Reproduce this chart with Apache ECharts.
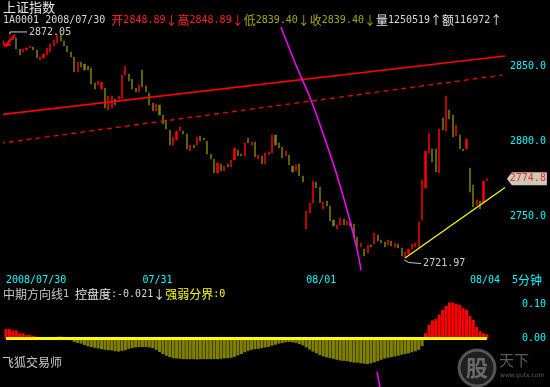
<!DOCTYPE html>
<html><head><meta charset="utf-8">
<script src="https://cdn.jsdelivr.net/npm/echarts@6/dist/echarts.min.js"></script>
<style>html,body{margin:0;padding:0;background:#000}#c{width:550px;height:387px}</style>
</head><body><div id="c"></div>
<script>
// ---- data ----
const slotCount = 147;
const dayStarts = [0, 40, 88, 136];
const dayLabels = ['2008/07/30', '07/31', '08/01', '08/04'];
const opens = [2863.3,2865.3,2867.3,2868.7,2861.3,2859.3,2860.7,2862.0,2862.7,2860.7,
2854.0,2855.3,2857.3,2859.3,2863.3,2865.3,2871.3,2866.7,2863.3,2859.3,
2856.0,2846.0,2852.7,2851.3,2850.0,2848.7,2838.7,2837.3,2834.7,2835.3,
2820.7,2822.0,2828.0,2828.0,2828.0,2844.0,2844.7,2841.3,2835.3,2832.7,
2847.3,2836.7,2832.0,2825.3,2820.0,2824.0,2817.3,2814.0,2807.3,2797.3,
2800.7,2806.7,2806.7,2804.7,2793.3,2797.3,2797.3,2803.3,2802.0,2800.0,
2791.3,2788.0,2778.7,2784.7,2780.0,2784.7,2782.7,2787.3,2794.0,2791.3,
2790.0,2802.0,2797.3,2799.3,2788.0,2790.0,2784.7,2790.7,2792.0,2804.0,
2798.7,2796.0,2790.0,2790.7,2783.3,2780.0,2784.7,2776.7,2741.3,2752.0,
2758.7,2772.7,2769.3,2754.7,2760.0,2756.7,2747.3,2741.3,2744.0,2748.0,
2744.0,2745.3,2744.7,2736.0,2729.3,2728.0,2725.3,2730.7,2731.3,2737.3,
2734.0,2732.7,2730.7,2733.3,2729.3,2731.3,2728.7,2722.7,2724.7,2728.0,
2729.3,2728.7,2747.3,2768.7,2792.0,2794.7,2794.7,2778.7,2815.3,2806.7,
2820.7,2817.3,2803.3,2804.0,2794.7,2794.7,2782.0,2770.7,2757.3,2760.0,
2758.7,2773.5];
const closes = [2864.7,2867.3,2870.0,2861.3,2857.3,2861.3,2862.0,2863.3,2860.7,2855.3,
2856.0,2858.0,2862.0,2864.7,2867.3,2870.7,2866.7,2863.3,2859.3,2856.0,
2846.0,2852.7,2849.3,2847.3,2847.3,2838.0,2834.7,2840.0,2839.3,2822.0,
2830.0,2830.0,2824.0,2830.0,2844.0,2850.0,2840.0,2834.7,2832.7,2837.3,
2836.0,2832.7,2824.0,2820.0,2824.7,2817.3,2811.3,2808.0,2797.3,2802.7,
2806.7,2809.3,2804.7,2794.7,2797.3,2795.3,2802.7,2800.0,2800.7,2791.3,
2788.0,2778.7,2785.3,2780.0,2783.3,2782.7,2787.3,2795.3,2790.0,2790.0,
2798.7,2798.7,2799.3,2789.3,2790.7,2784.7,2792.0,2792.7,2804.0,2797.3,
2795.3,2788.7,2793.3,2784.0,2779.3,2784.0,2776.7,2772.7,2753.3,2758.7,
2773.3,2768.7,2758.7,2759.3,2756.7,2746.7,2743.3,2744.0,2748.7,2744.0,
2746.7,2743.3,2736.0,2729.3,2732.0,2723.3,2730.7,2729.3,2738.7,2733.3,
2732.0,2729.3,2734.0,2730.0,2732.0,2728.7,2723.3,2726.0,2728.0,2731.3,
2732.0,2746.0,2774.0,2793.3,2805.3,2786.0,2779.3,2808.0,2807.3,2830.0,
2814.7,2802.7,2810.7,2794.7,2793.3,2801.3,2766.0,2756.0,2760.7,2754.7,
2773.3,2774.8];
const lows = [2863.3,2865.3,2867.3,2861.3,2857.3,2859.3,2860.7,2862.0,2860.7,2855.3,
2854.0,2855.3,2857.3,2859.3,2863.3,2865.3,2866.7,2863.3,2859.3,2856.0,
2846.0,2846.0,2849.3,2847.3,2847.3,2838.0,2834.7,2837.3,2834.7,2822.0,
2820.7,2822.0,2824.0,2828.0,2828.0,2844.0,2840.0,2834.7,2832.7,2832.7,
2836.0,2832.7,2824.0,2820.0,2820.0,2817.3,2811.3,2808.0,2797.3,2797.3,
2800.7,2806.7,2804.7,2794.7,2793.3,2795.3,2797.3,2800.0,2800.7,2791.3,
2788.0,2778.7,2778.7,2780.0,2780.0,2782.7,2782.7,2787.3,2790.0,2790.0,
2790.0,2798.7,2797.3,2789.3,2788.0,2784.7,2784.7,2790.7,2792.0,2797.3,
2795.3,2788.7,2790.0,2784.0,2779.3,2780.0,2776.7,2772.7,2741.3,2752.0,
2758.7,2768.7,2758.7,2754.7,2756.7,2746.7,2743.3,2741.3,2744.0,2744.0,
2744.0,2743.3,2736.0,2729.3,2729.3,2723.3,2725.3,2729.3,2731.3,2733.3,
2732.0,2729.3,2730.7,2730.0,2729.3,2728.7,2723.3,2721.97,2724.7,2728.0,
2729.3,2728.7,2747.3,2768.7,2792.0,2786.0,2779.3,2778.7,2807.3,2806.7,
2814.7,2802.7,2803.3,2794.7,2793.3,2794.7,2766.0,2756.0,2757.3,2754.7,
2758.7,2773.5];
const highs = [2864.7,2872.05,2870.0,2869.5,2861.3,2861.3,2862.0,2863.3,2862.7,2860.7,
2856.0,2858.0,2862.0,2864.7,2867.3,2870.7,2871.3,2866.7,2863.3,2859.3,
2856.0,2852.7,2852.7,2851.3,2850.0,2848.7,2838.7,2840.0,2839.3,2835.3,
2830.0,2830.0,2828.0,2830.0,2844.0,2850.0,2844.7,2841.3,2835.3,2837.3,
2847.3,2836.7,2832.0,2825.3,2824.7,2824.0,2817.3,2814.0,2807.3,2802.7,
2806.7,2809.3,2806.7,2804.7,2797.3,2797.3,2802.7,2803.3,2802.0,2800.0,
2791.3,2788.0,2785.3,2784.7,2783.3,2784.7,2787.3,2795.3,2794.0,2791.3,
2798.7,2802.0,2799.3,2799.3,2790.7,2790.0,2792.0,2792.7,2804.0,2804.0,
2798.7,2796.0,2793.3,2790.7,2783.3,2784.0,2784.7,2776.7,2753.3,2758.7,
2773.3,2772.7,2769.3,2759.3,2760.0,2756.7,2747.3,2744.0,2748.7,2748.0,
2746.7,2745.3,2744.7,2736.0,2732.0,2728.0,2730.7,2730.7,2738.7,2737.3,
2734.0,2732.7,2734.0,2733.3,2732.0,2731.3,2728.7,2726.0,2728.0,2731.3,
2732.0,2746.0,2774.0,2793.3,2805.3,2794.7,2794.7,2808.0,2815.3,2830.0,
2820.7,2817.3,2810.7,2804.0,2794.7,2801.3,2782.0,2770.7,2760.7,2760.0,
2773.3,2774.8];
const control = [0.027,0.027,0.023,0.023,0.015,0.015,0.010,0.010,0.008,0.005,
0.004,-0.002,-0.003,-0.004,-0.002,0.005,0.006,0.002,-0.002,-0.005,
-0.010,-0.013,-0.015,-0.019,-0.023,-0.025,-0.027,-0.029,-0.031,-0.033,
-0.034,-0.035,-0.037,-0.038,-0.036,-0.034,-0.030,-0.028,-0.026,-0.025,
-0.025,-0.025,-0.026,-0.028,-0.033,-0.039,-0.045,-0.050,-0.054,-0.057,
-0.058,-0.059,-0.060,-0.060,-0.060,-0.060,-0.061,-0.060,-0.060,-0.060,
-0.060,-0.060,-0.060,-0.059,-0.058,-0.057,-0.056,-0.053,-0.049,-0.045,
-0.040,-0.036,-0.033,-0.031,-0.030,-0.028,-0.026,-0.024,-0.021,-0.018,
-0.015,-0.013,-0.011,-0.010,-0.011,-0.013,-0.016,-0.020,-0.026,-0.032,
-0.038,-0.043,-0.048,-0.052,-0.055,-0.057,-0.059,-0.062,-0.064,-0.065,
-0.066,-0.068,-0.070,-0.070,-0.072,-0.073,-0.074,-0.072,-0.069,-0.066,
-0.062,-0.058,-0.056,-0.054,-0.052,-0.050,-0.047,-0.045,-0.043,-0.040,
-0.037,-0.033,-0.022,0.015,0.039,0.052,0.056,0.068,0.083,0.094,
0.104,0.104,0.100,0.097,0.088,0.083,0.066,0.054,0.033,0.021,
0.015,0.012];
const priceTicks = [2750, 2800, 2850];
const indTicks = [0, 0.1];
// drawn lines: [bar position, price]
const trendSolid = [[-1.76, 2817.5], [146.3, 2856.7]];
const trendDashed = [[-1.76, 2798.5], [145.7, 2844.0]];
const supportLine = [[117, 2722.0], [146.3, 2769.0]];
const arcLine = [[80.6, 2876.0], [85.0, 2850.7], [89.4, 2827.3], [94.1, 2797.3], [97.0, 2777.3], [100.0, 2754.0], [102.6, 2730.7], [104.1, 2714.0]];
const arcLower = [[108.8, -0.097], [109.6, -0.141]];
const arrowShaft = [[-1.17, 2867.6], [-0.3, 2863.3], [2.64, 2870.9]];
const arrowHead = [[-0.3, 2863.3], [1.4, 2864.4]];
const hiLead = [[1.17, 2871.3], [1.17, 2872.7], [6.16, 2872.7]];
const loLead = [[116.7, 2720.7], [118.1, 2719.0], [121.7, 2718.3]];
const lastPrice = 2774.8;
const quoteVals = ['2848.89', '2848.89', '2839.40', '2839.40', '1250519', '116972'];

const mono = "'DejaVu Sans Mono', 'Liberation Mono', monospace";
const cjk = "'Noto Sans CJK SC', sans-serif";
const cyan = '#00ffff', red = '#ff0000', olive = '#808000';
const categories = Array.from({length: slotCount}, (_, i) => String(i));
const candles = opens.map((o, i) => [o, closes[i], lows[i], highs[i]]);
const zeroLine = control.map(() => 0);

const chart = echarts.init(document.getElementById('c'), null, {renderer: 'canvas'});
const G = {left: 4.3, width: 501.4};
const lineS = (data, color, w, extra) => Object.assign({
  type: 'line', xAxisIndex: 1, yAxisIndex: 0, data, symbol: 'none', silent: true, clip: false,
  lineStyle: {color, width: w}, animation: false, z: 5
}, extra || {});

const mk = (ff, fs, c) => ({fontFamily: ff, fontSize: fs, fill: c, lineHeight: 14, verticalAlign: 'middle'});
const rich = {
  w: mk(mono, 10, '#d8d8d8'), wc: mk(cjk, 12, '#e8e8e8'),
  r: mk(mono, 10, '#ff2020'), rc: mk(cjk, 12, '#ff2020'),
  o: mk(mono, 10, '#a8a800'), oc: mk(cjk, 12, '#a8a800'),
  y: mk(mono, 10, '#ffff00'), yc: mk(cjk, 12, '#ffff00'),
  g: mk(mono, 10, '#c8c8c8'), gc: mk(cjk, 12, '#c8c8c8'),
  c: mk(mono, 10, cyan), cc: mk(cjk, 12, cyan)
};
const q = quoteVals;
const headerText = '{w|1A0001 2008/07/30 }{rc|开}{r|' + q[0] + '}{rc|↓高}{r|' + q[1] + '}{rc|↓}{oc|低}{o|' + q[2] + '}{oc|↓收}{o|' + q[3] + '}{oc|↓}{wc|量}{w|' + q[4] + '}{wc|↑额}{w|' + q[5] + '}{wc|↑}';
const indText = '{gc|中期方向线}{g|1 }{wc|控盘度}{w|:-0.021}{wc|↓}{yc|强弱分界}{y|:0}';

chart.setOption({
  backgroundColor: '#000',
  animation: false,
  grid: [
    {left: G.left, width: G.width, top: 28, height: 242},
    {left: G.left, width: G.width, top: 300.5, height: 79.35}
  ],
  xAxis: [
    {type: 'category', gridIndex: 0, data: categories, boundaryGap: true,
     axisLine: {show: false}, axisTick: {show: false}, splitLine: {show: false},
     axisLabel: {
       interval: (i) => dayStarts.indexOf(i) >= 0,
       formatter: (v, i) => { const k = dayStarts.indexOf(i); return k >= 0 ? dayLabels[k] : ''; },
       color: cyan, fontFamily: mono, fontSize: 10, align: 'left', margin: 5
     }},
    {type: 'value', gridIndex: 0, min: -0.5, max: slotCount - 0.5, show: false},
    {type: 'category', gridIndex: 1, data: categories, boundaryGap: true, show: false},
    {type: 'value', gridIndex: 1, min: -0.5, max: slotCount - 0.5, show: false}
  ],
  yAxis: [
    {type: 'value', gridIndex: 0, position: 'right', min: 2714, max: 2875.33, scale: true,
     splitLine: {show: false}, axisLine: {show: false}, axisTick: {show: false},
     axisLabel: {customValues: priceTicks, formatter: (v) => v.toFixed(1), color: cyan,
       fontFamily: mono, fontSize: 10, align: 'right', margin: 40.3}},
    {type: 'value', gridIndex: 1, position: 'right', min: -0.12, max: 0.11,
     splitLine: {show: false}, axisLine: {show: false}, axisTick: {show: false},
     axisLabel: {customValues: indTicks, formatter: (v) => v.toFixed(2), color: cyan,
       fontFamily: mono, fontSize: 10, align: 'right', margin: 40.3}}
  ],
  series: [
    {type: 'candlestick', xAxisIndex: 0, yAxisIndex: 0, data: candles, barWidth: 1.6, silent: true,
     itemStyle: {color: red, color0: olive, borderColor: red, borderColor0: olive, borderWidth: 0.5}, z: 3},
    lineS(trendSolid, red, 1.6),
    lineS(trendDashed, red, 1.2, {lineStyle: {color: red, width: 1.2, type: [5, 4]}}),
    lineS(supportLine, '#ffff00', 1.2),
    lineS(arcLine, '#ff00ff', 1.5, {smooth: 0.35}),
    lineS(arrowShaft, red, 2),
    lineS(arrowHead, red, 2),
    lineS(hiLead, '#c8c8c8', 1, {endLabel: {show: true, formatter: () => highs[1].toFixed(2), color: '#d0d0d0', fontFamily: mono, fontSize: 10, distance: 2}}),
    lineS(loLead, '#c8c8c8', 1, {endLabel: {show: true, formatter: () => lows[117].toFixed(2), color: '#d0d0d0', fontFamily: mono, fontSize: 10, distance: 2}}),
    {type: 'scatter', xAxisIndex: 1, yAxisIndex: 0, data: [[152.7, lastPrice]], clip: false, silent: true,
     symbol: 'path://M0,6.5L5,0L40,0L40,13L5,13Z', symbolSize: [40, 13], itemStyle: {color: '#fffbe8'},
     label: {show: true, position: 'inside', offset: [1, 0], formatter: () => lastPrice.toFixed(1), color: red, fontFamily: mono, fontSize: 10}, z: 10},
    {type: 'bar', xAxisIndex: 2, yAxisIndex: 1, data: control, barWidth: 3, silent: true,
     itemStyle: {color: (p) => p.value >= 0 ? red : olive}},
    {type: 'line', xAxisIndex: 2, yAxisIndex: 1, data: zeroLine, symbol: 'none', silent: true,
     lineStyle: {color: '#ffff00', width: 3}, z: 5},
    {type: 'line', xAxisIndex: 3, yAxisIndex: 1, data: arcLower, symbol: 'none', silent: true, clip: false,
     lineStyle: {color: '#ff00ff', width: 1.5}, z: 5}
  ],
  graphic: [
    {type: 'text', x: 3, y: 7.5, style: {text: '上证指数', fill: '#e8e8e8', font: "13px 'Noto Sans CJK SC'", verticalAlign: 'middle'}},
    {type: 'text', x: 3, y: 20.5, style: {text: headerText, rich, verticalAlign: 'middle'}},
    {type: 'text', x: 3, y: 294, style: {text: indText, rich, verticalAlign: 'middle'}},
    {type: 'text', x: 512, y: 280.5, style: {text: '{c|5}{cc|分钟}', rich, verticalAlign: 'middle'}},
    {type: 'text', x: 2, y: 362.5, style: {text: '飞狐交易师', fill: '#c8c8c8', font: "12px 'Noto Sans CJK SC'", verticalAlign: 'middle'}},
    {type: 'circle', shape: {cx: 477, cy: 368, r: 18}, style: {fill: 'rgba(90,90,90,0.35)', stroke: 'rgba(130,130,130,0.6)', lineWidth: 3}},
    {type: 'text', x: 477, y: 368, style: {text: '股', fill: 'rgba(140,140,140,0.7)', font: "bold 22px 'Noto Sans CJK SC'", align: 'center', verticalAlign: 'middle'}},
    {type: 'text', x: 499, y: 360, style: {text: '天下', fill: 'rgba(130,130,130,0.7)', font: "15px 'Noto Sans CJK SC'", verticalAlign: 'middle'}},
    {type: 'text', x: 500, y: 375, style: {text: 'www.gutx.com', fill: 'rgba(130,130,130,0.7)', font: "6px 'DejaVu Sans'", verticalAlign: 'middle'}}
  ]
});
</script></body></html>
